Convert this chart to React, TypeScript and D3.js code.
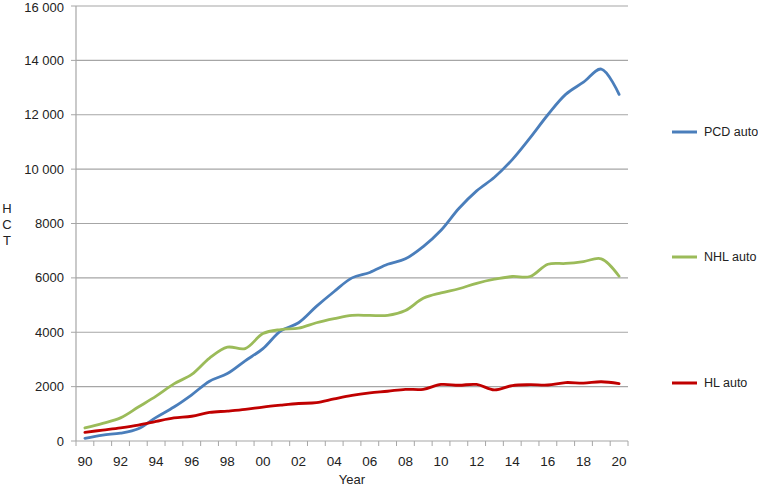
import React from 'react';
import * as d3 from 'd3';

const years = d3.range(1990, 2021);
const tickLabels = ['90', '92', '94', '96', '98', '00', '02', '04', '06', '08', '10', '12', '14', '16', '18', '20'];
const yTicks = [0, 2000, 4000, 6000, 8000, 10000, 12000, 14000, 16000];

const pcd = [100, 220, 290, 450, 870, 1250, 1700, 2200, 2480, 2950, 3400, 4050, 4350, 4950, 5500, 6000, 6200, 6500, 6700, 7150, 7750, 8550, 9200, 9700, 10350, 11150, 12000, 12750, 13200, 13680, 12750];
const nhl = [480, 650, 850, 1250, 1650, 2100, 2450, 3050, 3450, 3400, 3950, 4100, 4150, 4350, 4500, 4620, 4620, 4620, 4800, 5250, 5450, 5600, 5800, 5950, 6050, 6050, 6500, 6530, 6600, 6700, 6060];
const hl = [320, 400, 480, 580, 720, 850, 910, 1050, 1100, 1160, 1250, 1320, 1380, 1410, 1550, 1680, 1770, 1830, 1900, 1900, 2080, 2050, 2080, 1880, 2040, 2070, 2060, 2150, 2130, 2180, 2110];

const seriesNames = ['PCD auto', 'NHL auto', 'HL auto'];
const seriesColors = ['#4a7ebb', '#9bbb59', '#c00000'];

const W = 758;
const H = 488;
const left = 76;
const right = 628;
const top = 6;
const bottom = 441;
const font = '"Liberation Sans", Arial, Helvetica, sans-serif';

const fmt = (v: number) => (v >= 10000 ? d3.format(',')(v).replace(',', ' ') : String(v));

export default function App() {
  const x = d3.scaleBand<number>().domain(years).range([left, right]);
  const y = d3.scaleLinear().domain([0, 16000]).range([bottom, top]);
  const line = d3
    .line<number>()
    .x((d, i) => (x(years[i]) as number) + x.bandwidth() / 2)
    .y((d) => y(d))
    .curve(d3.curveCatmullRom.alpha(0.5));

  const data = [pcd, nhl, hl];
  const legendY = [132, 257, 383];

  return (
    <svg width={W} height={H} style={{ position: 'absolute', left: 0, top: 0, background: '#fff' }} fontFamily={font}>
      {/* grid + y ticks */}
      {yTicks.map((t) => (
        <g key={t}>
          {t > 0 && <line x1={left} x2={right} y1={y(t)} y2={y(t)} stroke="#a6a6a6" strokeWidth={1.2} />}
          <line x1={left - 5} x2={left} y1={y(t)} y2={y(t)} stroke="#a6a6a6" strokeWidth={1} />
          <text x={left - 12} y={Math.max(y(t), 7)} dy="0.35em" textAnchor="end" fontSize={13} fill="#222">
            {fmt(t)}
          </text>
        </g>
      ))}
      {/* axes */}
      <line x1={left} x2={left} y1={top} y2={bottom} stroke="#a6a6a6" strokeWidth={1.2} />
      <line x1={left} x2={right} y1={bottom} y2={bottom} stroke="#a6a6a6" strokeWidth={1.2} />
      {years.concat([2021]).map((yr, i) => {
        const xx = left + i * x.step();
        return <line key={yr} x1={xx} x2={xx} y1={bottom} y2={bottom + 5} stroke="#a6a6a6" strokeWidth={1} />;
      })}
      {years.map((yr, i) =>
        i % 2 === 0 ? (
          <text key={yr} x={(x(yr) as number) + x.bandwidth() / 2} y={466} textAnchor="middle" fontSize={13.5} fill="#222">
            {tickLabels[i / 2]}
          </text>
        ) : null
      )}
      <text x={(left + right) / 2} y={484} textAnchor="middle" fontSize={13} fill="#222">
        Year
      </text>
      {['H', 'C', 'T'].map((c, i) => (
        <text key={c} x={7} y={208 + i * 16} dy="0.35em" textAnchor="middle" fontSize={13} fill="#222">
          {c}
        </text>
      ))}
      {/* series */}
      {data.map((s, k) => (
        <path key={k} d={line(s) || ''} fill="none" stroke={seriesColors[k]} strokeWidth={2.8} strokeLinejoin="round" strokeLinecap="round" />
      ))}
      {/* legend */}
      {seriesNames.map((n, k) => (
        <g key={n}>
          <line x1={672} x2={697} y1={legendY[k]} y2={legendY[k]} stroke={seriesColors[k]} strokeWidth={3} />
          <text x={704} y={legendY[k]} dy="0.35em" fontSize={12.5} fill="#222">
            {n}
          </text>
        </g>
      ))}
    </svg>
  );
}
